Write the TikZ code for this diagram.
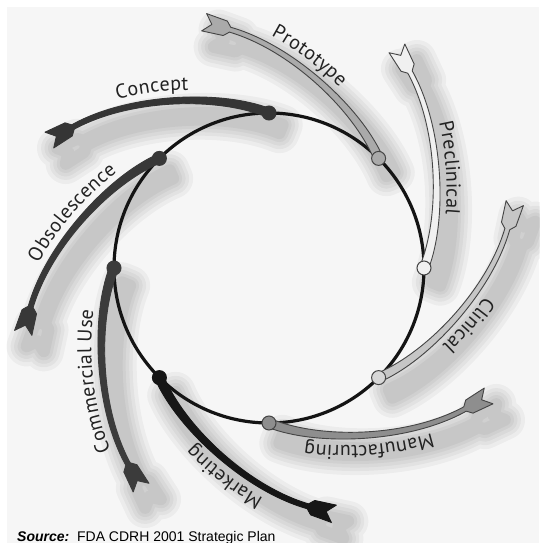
\documentclass[tikz,border=0pt]{standalone}
\usepackage{fontspec}
\setmainfont{PT Sans}
\newfontfamily\srcfont{Liberation Sans}
\usetikzlibrary{decorations.text}

\definecolor{bgcol}{HTML}{F6F6F6}
\definecolor{ink}{HTML}{222222}
\definecolor{edge}{HTML}{444444}
\definecolor{cConcept}{HTML}{353535}
\definecolor{cPrototype}{HTML}{AAAAAA}
\definecolor{cPreclinical}{HTML}{F0F0F0}
\definecolor{cClinical}{HTML}{C6C6C6}
\definecolor{cManufacturing}{HTML}{8E8E8E}
\definecolor{cMarketing}{HTML}{161616}
\definecolor{cCommercial}{HTML}{3B3B3B}
\definecolor{cObsolescence}{HTML}{383838}

\newcommand{\labelfont}{\fontsize{20}{20}\selectfont}

% One stage arm in its own frame: the stage dot sits at (0,155) on the ring,
% the tapered shaft sweeps outwards to the left and ends in a fishtail.
\tikzset{
  armpath/.style={insert path={
    (1.67,159.18) .. controls (-48.52,178.71) and (-141.45,174.63) .. (-197.21,143.19)
    -- (-204.0,145.14) -- (-223.99,135.81) -- (-212.63,131.8) -- (-215.27,120.05)
    -- (-196.75,132.02) -- (-194.79,138.81)
    .. controls (-138.55,169.37) and (-51.48,171.29) .. (-1.67,150.82) -- cycle}},
  labelpath/.style={insert path={
    (-196,141) .. controls (-140,172) and (-50,175) .. (0,155)}},
  ring/.style={draw=black!92, line width=3.2pt},
  stagedot/.style={circle, minimum size=14pt, inner sep=0pt, line width=1pt, draw=edge},
  softshadow/.style={draw=black, draw opacity=0.04,
    line join=round, line cap=round, line width=#1},
}

% arm, with its label along the outer side; #5 pulls the label towards the fishtail
\newcommand{\stagearm}[5]{%
  \begin{scope}[rotate=#1]
    \path[armpath, fill=#2, draw=#3, line width=0.9pt, line join=round];
    \path[decorate, decoration={text along path, text={|\labelfont|#4},
        text align={align=center, right indent=#5}, raise=10pt, text color=ink}]
      [labelpath];
  \end{scope}}

% blurred drop shadow of an arm
\newcommand{\armshadow}[1]{%
  \begin{scope}[xshift=12pt, yshift=-16pt, rotate=#1]
    \foreach \w in {40,32,25,18,12} {\path[armpath, softshadow=\w pt];}
  \end{scope}}

\begin{document}
\begin{tikzpicture}[x=1pt, y=1pt]
  \useasboundingbox (-269,-275) rectangle (270,268);
  \fill[white] (-269,-275) rectangle (270,268);
  \fill[bgcol] (-262,-275) rectangle (270,261);

  % shadows
  \foreach \a in {0,-45,-90,-135,-180,-225,-270,-315} {\armshadow{\a}}

  % the ring
  \draw[ring] (0,0) circle (155);

  % the eight stages
  \stagearm{0}{cConcept}{cConcept}{Concept}{32pt}
  \stagearm{-45}{cPrototype}{edge}{Prototype}{40pt}
  \stagearm{-90}{cPreclinical}{edge}{Preclinical}{0pt}
  \stagearm{-135}{cClinical}{edge}{Clinical}{0pt}
  \stagearm{-180}{cManufacturing}{edge}{Manufacturing}{0pt}
  \stagearm{-225}{cMarketing}{cMarketing}{Marketing}{30pt}
  \stagearm{-270}{cCommercial}{cCommercial}{Commercial Use}{26pt}
  \stagearm{-315}{cObsolescence}{cObsolescence}{Obsolescence}{0pt}

  % stage dots on the ring
  \node[stagedot, fill=cConcept, draw=cConcept] (dConcept) at (90:155) {};
  \node[stagedot, fill=cPrototype] (dPrototype) at (45:155) {};
  \node[stagedot, fill=cPreclinical] (dPreclinical) at (0:155) {};
  \node[stagedot, fill=cClinical!70!white] (dClinical) at (-45:155) {};
  \node[stagedot, fill=cManufacturing] (dManufacturing) at (-90:155) {};
  \node[stagedot, fill=cMarketing, draw=cMarketing] (dMarketing) at (-135:155) {};
  \node[stagedot, fill=cCommercial, draw=cCommercial] (dCommercial) at (180:155) {};
  \node[stagedot, fill=cObsolescence, draw=cObsolescence] (dObsolescence) at (135:155) {};

  % source line
  \node[anchor=base west, inner sep=0pt, text=black,
        font=\srcfont\fontsize{14}{14}\selectfont] (source) at (-252,-273)
    {\textbf{\textit{Source:}}\ \ FDA CDRH 2001 Strategic Plan};
\end{tikzpicture}
\end{document}
